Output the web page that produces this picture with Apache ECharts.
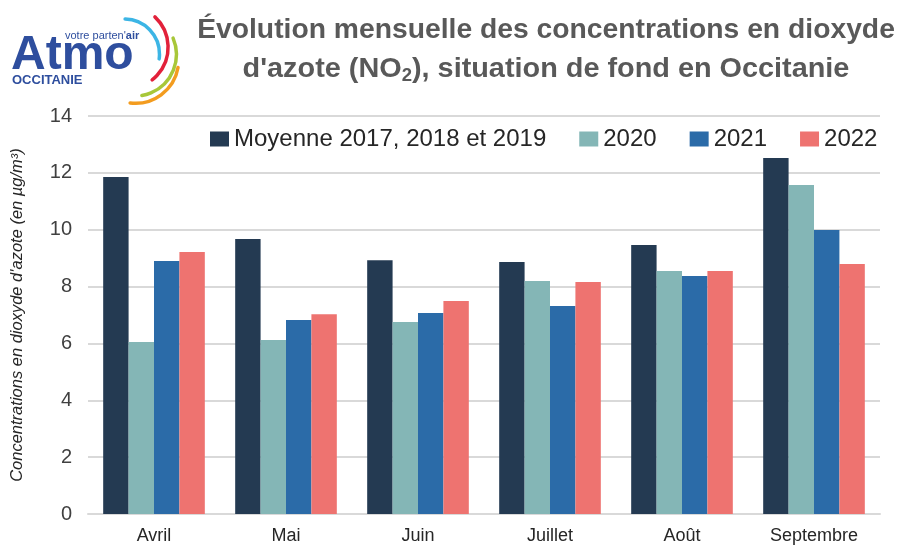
<!DOCTYPE html>
<html>
<head>
<meta charset="utf-8">
<script src="https://cdn.jsdelivr.net/npm/echarts@6/dist/echarts.min.js"></script>
<style>
  html, body { margin: 0; padding: 0; background: #fff; }
  #chart { width: 899px; height: 552px; }
</style>
</head>
<body>
<div id="chart"></div>
<script>
// months shown on the x axis
const months = ['Avril', 'Mai', 'Juin', 'Juillet', 'Août', 'Septembre']
// NO2 background concentrations, µg/m³
const moyenne = [11.85, 9.67, 8.93, 8.86, 9.46, 12.52]
const v2020 = [6.05, 6.12, 6.75, 8.2, 8.55, 11.57]
const v2021 = [8.9, 6.82, 7.07, 7.32, 8.37, 9.99]
const v2022 = [9.22, 7.03, 7.49, 8.16, 8.55, 8.79]
const seriesNames = ['Moyenne 2017, 2018 et 2019', '2020', '2021', '2022']
const colors = ['#243a52', '#84b6b6', '#2b6ba8', '#ee7370']

const font = '"Liberation Sans", Arial, sans-serif'
let myChart = echarts.init(document.getElementById('chart'))

// one coloured stroke of the logo
function arc (cx, cy, r, a0, a1, color) {
  return {
    type: 'arc',
    shape: { cx: cx, cy: cy, r: r, startAngle: a0 * Math.PI / 180, endAngle: a1 * Math.PI / 180 },
    style: { stroke: color, lineWidth: 3.5, fill: null, lineCap: 'round' }
  }
}

let option = {
  backgroundColor: '#fff',
  animation: false,
  color: colors,
  legend: {
    data: seriesNames,
    left: 205,
    top: 122,
    itemWidth: 19,
    itemHeight: 15,
    itemGap: 33,
    icon: 'rect',
    textStyle: { fontFamily: font, fontSize: 24, color: '#262626' }
  },
  grid: { left: 88, right: 19, top: 116, bottom: 38 },
  xAxis: {
    type: 'category',
    data: months,
    axisLine: { lineStyle: { color: '#d9d9d9', width: 2 } },
    axisTick: { show: false },
    axisLabel: { fontFamily: font, fontSize: 18, color: '#262626', margin: 13 }
  },
  yAxis: {
    type: 'value',
    min: 0,
    max: 14,
    interval: 2,
    name: 'Concentrations en dioxyde d\'azote (en µg/m³)',
    nameLocation: 'middle',
    nameRotate: 90,
    nameGap: 62,
    nameTextStyle: { fontFamily: font, fontSize: 16.5, fontStyle: 'italic', color: '#262626' },
    axisLine: { show: false },
    axisTick: { show: false },
    axisLabel: { fontFamily: font, fontSize: 20, color: '#404040', margin: 16 },
    splitLine: { lineStyle: { color: '#d9d9d9', width: 2 } }
  },
  series: [
    { name: seriesNames[0], type: 'bar', data: moyenne, barGap: '0%', barCategoryGap: '23%' },
    { name: seriesNames[1], type: 'bar', data: v2020 },
    { name: seriesNames[2], type: 'bar', data: v2021 },
    { name: seriesNames[3], type: 'bar', data: v2022 }
  ],
  graphic: [
    // title, two lines
    {
      type: 'text', x: 546, y: 30, scaleX: 1.01,
      style: {
        text: 'Évolution mensuelle des concentrations en dioxyde',
        fill: '#595959', font: 'bold 28px ' + font, align: 'center', verticalAlign: 'middle'
      }
    },
    {
      type: 'text', x: 546, y: 69, scaleX: 1.03,
      style: {
        text: 'd\'azote (NO{s|2}), situation de fond en Occitanie',
        fill: '#595959', font: 'bold 28px ' + font, align: 'center', verticalAlign: 'middle',
        rich: {
          s: { fontFamily: font, fontWeight: 'bold', fontSize: 18, fill: '#595959', padding: [15, 0, 0, 0] }
        }
      }
    },
    // logo
    arc(124.5, 54, 35, -89, 8, '#3cb5e5'),
    arc(126.6, 47.2, 41.5, -47, 52, '#e2213a'),
    arc(134.6, 54.4, 41.8, -23, 80, '#a8c739'),
    arc(135.4, 60, 43.3, 10, 97, '#f39c1f'),
    {
      type: 'text', left: 65, top: 30,
      style: { text: 'votre parten\'{b|air}', fill: '#2e4e9e', font: '11px ' + font,
        rich: { b: { fontWeight: 'bold', fontSize: 11, fill: '#2e4e9e', fontFamily: font } } }
    },
    {
      type: 'text', left: 11, top: 32,
      style: { text: 'Atmo', fill: '#2e4e9e', font: 'bold 48px ' + font }
    },
    {
      type: 'text', left: 12, top: 74,
      style: { text: 'OCCITANIE', fill: '#2e4e9e', font: 'bold 13px ' + font }
    }
  ]
}
myChart.setOption(option)
</script>
</body>
</html>
